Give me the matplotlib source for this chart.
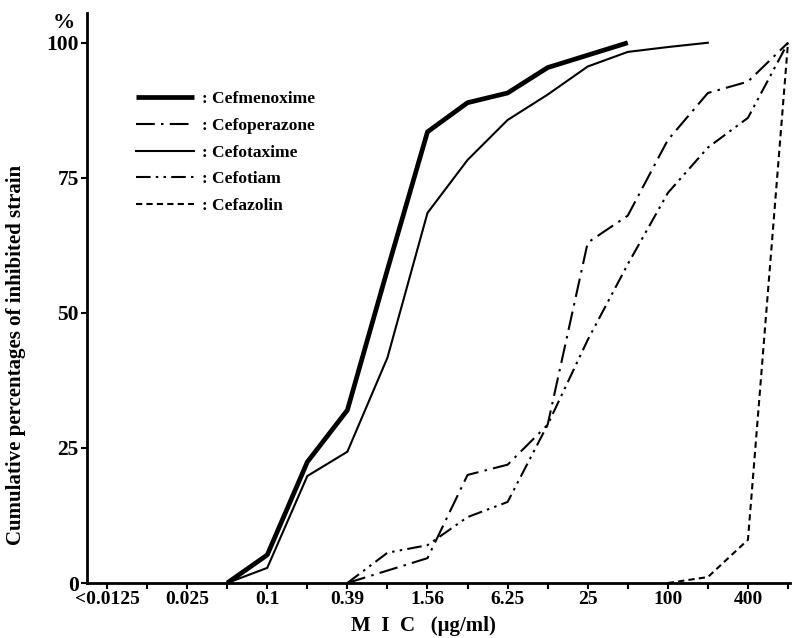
import matplotlib
matplotlib.use("Agg")
import matplotlib.pyplot as plt

# dilution steps (doubling), only every second one is labelled
mic_steps = ["<0.0125", "0.0125", "0.025", "0.05", "0.1", "0.2", "0.39", "0.78",
             "1.56", "3.13", "6.25", "12.5", "25", "50", "100", "200", "400", "800"]
tick_labels = ["<0.0125", "0.025", "0.1", "0.39", "1.56", "6.25", "25", "100", "400"]

# cumulative % inhibited, indexed by dilution step
cefmenoxime_x = [3, 4, 5, 6, 7, 8, 9, 10, 11, 12, 13]
cefmenoxime_y = [0, 5.2, 22.4, 32, 58, 83.5, 88.9, 90.7, 95.4, 97.7, 100]

cefoperazone_x = [6, 7, 8, 9, 10, 11, 12, 13, 14, 15, 16, 17]
cefoperazone_y = [0, 2.3, 4.6, 20, 21.9, 29.3, 63, 68, 82, 90.7, 92.8, 100]

cefotaxime_x = [3, 4, 5, 6, 7, 8, 9, 10, 11, 12, 13, 14, 15]
cefotaxime_y = [0, 2.8, 19.8, 24.3, 41.7, 68.5, 78.3, 85.7, 90.4, 95.6, 98.3, 99.2, 100]

cefotiam_x = [6, 7, 8, 9, 10, 11, 12, 13, 14, 15, 16, 17]
cefotiam_y = [0, 5.6, 7, 12.2, 15, 29.3, 45, 59, 72.2, 80.6, 86.1, 100]

cefazolin_x = [14, 15, 16, 17]
cefazolin_y = [0, 1.1, 8, 100]

plt.rcParams["font.family"] = ["Liberation Serif", "DejaVu Serif"]
plt.rcParams["font.weight"] = "bold"

fig = plt.figure(figsize=(8.04, 6.38), dpi=100)
ax = fig.add_axes([0.1082, 0.0862, 0.8744, 0.8934])

ax.plot(cefmenoxime_x, cefmenoxime_y, color="black", lw=3.4,
        solid_capstyle="butt", label=": Cefmenoxime")
ax.plot(cefoperazone_x, cefoperazone_y, color="black", lw=1.5,
        linestyle=(0, (9, 3, 1.2, 3)), label=": Cefoperazone")
ax.plot(cefotaxime_x, cefotaxime_y, color="black", lw=1.5,
        label=": Cefotaxime")
ax.plot(cefotiam_x, cefotiam_y, color="black", lw=1.5,
        linestyle=(0, (7, 2.5, 1.2, 2.5, 1.2, 2.5)), label=": Cefotiam")
ax.plot(cefazolin_x, cefazolin_y, color="black", lw=1.5,
        linestyle=(0, (3, 2)), label=": Cefazolin")

ax.set_xlim(-0.5, 17.05)
ax.set_ylim(0, 105.5)

ax.set_xticks(range(len(mic_steps)))
ax.set_xticklabels([s if s in tick_labels else "" for s in mic_steps])
ax.set_yticks([0, 25, 50, 75, 100])
ax.set_yticklabels(["0", "25", "50", "75", "100"])
ax.tick_params(axis="both", direction="out", length=4, width=1.5, pad=2)
ax.tick_params(axis="x", labelsize=14)
ax.tick_params(axis="y", labelsize=15.5)

for side in ["top", "right"]:
    ax.spines[side].set_visible(False)
ax.spines["left"].set_linewidth(2)
ax.spines["bottom"].set_linewidth(2)

ax.set_xlabel("M  I  C   (μg/ml)", fontsize=15, fontweight="bold")
ax.xaxis.set_label_coords(0.479, -0.058)
ax.set_ylabel("Cumulative percentages of inhibited strain", fontsize=15,
              fontweight="bold")
ax.yaxis.set_label_coords(-0.087, 0.40)
ax.text(-0.017, 1.0, "%", transform=ax.transAxes, fontsize=16,
        fontweight="bold", ha="right", va="top")

ax.legend(loc="upper left", bbox_to_anchor=(0.048, 0.89), frameon=False,
          handlelength=3.3, handletextpad=0.5, labelspacing=0.6,
          prop={"size": 12.5, "weight": "bold"})

fig.savefig("out.png", dpi=100)
